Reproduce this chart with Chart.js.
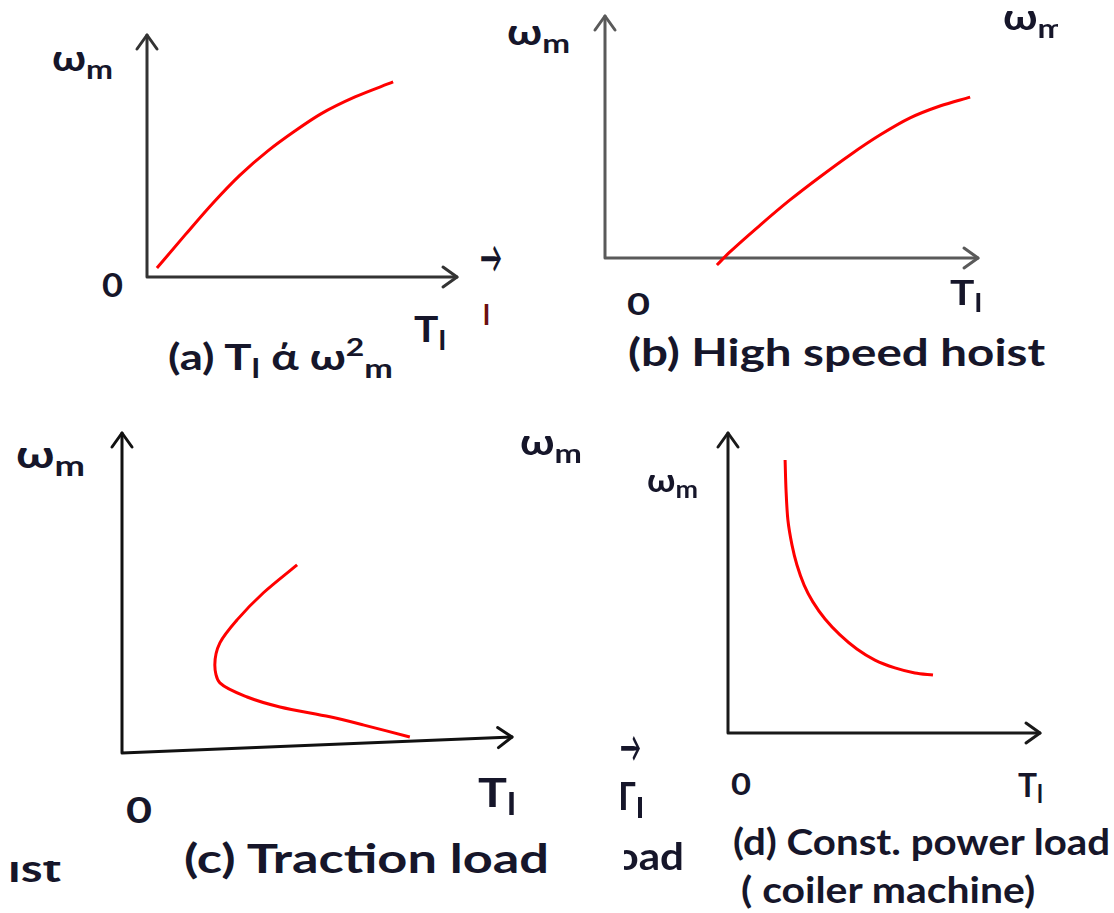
<!DOCTYPE html>
<html lang="en">
<head>
    <meta charset="UTF-8">
    <title>Load torque - speed characteristics</title>
    <script src="https://cdn.jsdelivr.net/npm/chart.js"></script>
    <style>
        body {
            margin: 0;
            background: #fff;
            width: 1114px;
            height: 913px;
            position: relative;
            overflow: hidden;
            font-family: Lato, "Open Sans", "Noto Sans", sans-serif;
        }
        canvas {
            position: absolute;
        }
        .lbl {
            position: absolute;
            white-space: nowrap;
            line-height: 1;
            font-weight: 700;
            color: #16162a;
            transform-origin: 0 0;
        }
        .lbl sub {
            font-size: 0.75em;
            vertical-align: baseline;
            position: relative;
            top: 0.28em;
        }
        .lbl sup {
            font-size: 0.7em;
            vertical-align: baseline;
            position: relative;
            top: -0.55em;
        }
        .clip {
            position: absolute;
            overflow: hidden;
        }
    </style>
</head>
<body>

    <canvas id="chartA"></canvas>
    <canvas id="chartB"></canvas>
    <canvas id="chartC"></canvas>
    <canvas id="chartD"></canvas>

    <script>
        // values, axes run 0..10 in each panel
        const aTorque = [0.32, 1.23, 2.16, 3.0, 3.9, 4.77, 5.61, 6.71, 7.94];
        const aSpeed  = [0.37, 1.74, 3.1, 4.21, 5.21, 6.03, 6.74, 7.44, 8.06];

        const bTorque = [3.0, 3.35, 4.16, 4.96, 5.76, 6.57, 7.37, 8.18, 8.98, 9.79];
        const bSpeed  = [-0.29, 0.25, 1.36, 2.40, 3.35, 4.26, 5.08, 5.79, 6.28, 6.65];

        const cTorque = [4.49, 3.62, 2.95, 2.51, 2.38, 2.51, 3.21, 4.05, 5.33, 6.18, 7.38];
        const cSpeed  = [5.88, 5.0, 4.16, 3.44, 2.75, 2.19, 1.75, 1.44, 1.13, 0.88, 0.5];

        const dTorque = [1.83, 1.86, 1.92, 2.05, 2.21, 2.44, 2.72, 3.11, 3.59, 4.13, 4.71, 5.35, 5.99, 6.57];
        const dSpeed  = [9.10, 8.10, 7.10, 6.27, 5.60, 4.93, 4.37, 3.80, 3.27, 2.80, 2.43, 2.17, 2.0, 1.93];

        // layout of each little plot: origin pixel and arrow tips
        const PAD = 16;
        const panels = [
            { id: 'chartA', xs: aTorque, ys: aSpeed, origin: [147, 277], tip: [457, 35], tilt: 0, axis: '#333', mono: true },
            { id: 'chartB', xs: bTorque, ys: bSpeed, origin: [605, 258], tip: [978, 16], tilt: 0, axis: '#5a5a5a', mono: true },
            { id: 'chartC', xs: cTorque, ys: cSpeed, origin: [122, 753], tip: [512, 433], tilt: 0.5, axis: '#111', mono: false },
            { id: 'chartD', xs: dTorque, ys: dSpeed, origin: [728, 733], tip: [1040, 433], tilt: 0, axis: '#1a1a1a', mono: false }
        ];

        function arrowHead(ctx, x, y, dx, dy) {
            // open chevron pointing along (dx, dy)
            const len = 14, half = 10;
            const nx = -dy, ny = dx;
            ctx.beginPath();
            ctx.moveTo(x - dx * len + nx * half, y - dy * len + ny * half);
            ctx.lineTo(x, y);
            ctx.lineTo(x - dx * len - nx * half, y - dy * len - ny * half);
            ctx.stroke();
        }

        const axisArrows = {
            id: 'axisArrows',
            beforeDatasetsDraw(chart, args, opts) {
                const ctx = chart.ctx;
                const xs = chart.scales.x, ys = chart.scales.y;
                const x0 = xs.getPixelForValue(0), y0 = ys.getPixelForValue(0);
                const xTip = xs.getPixelForValue(10), yTip = ys.getPixelForValue(10);
                const xEndY = ys.getPixelForValue(opts.tilt || 0);
                ctx.save();
                ctx.strokeStyle = opts.color;
                ctx.lineWidth = 3;
                ctx.lineCap = 'round';
                ctx.lineJoin = 'round';
                ctx.beginPath();
                ctx.moveTo(x0, y0);
                ctx.lineTo(x0, yTip);
                ctx.moveTo(x0, y0);
                ctx.lineTo(xTip, xEndY);
                ctx.stroke();
                arrowHead(ctx, x0, yTip, 0, -1);
                const L = Math.hypot(xTip - x0, xEndY - y0);
                arrowHead(ctx, xTip, xEndY, (xTip - x0) / L, (xEndY - y0) / L);
                ctx.restore();
            }
        };

        panels.forEach(p => {
            const cv = document.getElementById(p.id);
            const w = p.tip[0] - p.origin[0] + 2 * PAD;
            const h = p.origin[1] - p.tip[1] + 2 * PAD;
            cv.width = w;
            cv.height = h;
            cv.style.left = (p.origin[0] - PAD) + 'px';
            cv.style.top = (p.tip[1] - PAD) + 'px';

            new Chart(cv.getContext('2d'), {
                type: 'scatter',
                data: {
                    datasets: [{
                        data: p.xs.map((v, i) => ({ x: v, y: p.ys[i] })),
                        showLine: true,
                        borderColor: '#ff0000',
                        borderWidth: 3,
                        pointRadius: 0,
                        tension: 0.3,
                        cubicInterpolationMode: p.mono ? 'monotone' : 'default',
                        clip: false
                    }]
                },
                options: {
                    responsive: false,
                    animation: false,
                    events: [],
                    layout: { padding: PAD },
                    plugins: {
                        legend: { display: false },
                        tooltip: { enabled: false },
                        axisArrows: { color: p.axis, tilt: p.tilt }
                    },
                    scales: {
                        x: { type: 'linear', min: 0, max: 10, display: false },
                        y: { type: 'linear', min: 0, max: 10, display: false }
                    }
                },
                plugins: [axisArrows]
            });
        });

        // text labels: x = left, base = baseline, w = target ink width
        const labels = [
            { html: 'ω<sub>m</sub>', x: 52, base: 71, size: 36, w: 61 },
            { html: 'ω<sub>m</sub>', x: 507, base: 45, size: 36, w: 63 },
            { html: 'ω<sub>m</sub>', x: 1003, base: 30, size: 36, w: 62, clip: [990, 0, 1058, 60] },
            { html: 'ω<sub>m</sub>', x: 16, base: 468, size: 38, w: 69 },
            { html: 'ω<sub>m</sub>', x: 520, base: 455, size: 36, w: 62 },
            { html: 'ω<sub>m</sub>', x: 647, base: 492, size: 32, w: 51 },
            { html: '0', x: 102, base: 297, size: 33, w: 21 },
            { html: '0', x: 627, base: 315, size: 31, w: 23 },
            { html: '0', x: 126, base: 823, size: 36, w: 26 },
            { html: '0', x: 731, base: 795, size: 31, w: 20 },
            { html: 'T<sub>l</sub>', x: 414, base: 342, size: 36, w: 32 },
            { html: 'T<sub>l</sub>', x: 950, base: 305, size: 34, w: 32 },
            { html: 'T<sub>l</sub>', x: 478, base: 807, size: 40, w: 38 },
            { html: 'T<sub>l</sub>', x: 610, base: 810, size: 38, w: 34, clip: [621, 770, 660, 830] },
            { html: 'T<sub>l</sub>', x: 1018, base: 797, size: 32, w: 25 },
            { html: '(a) T<sub>l</sub> ά ω<sup>2</sup><sub>m</sub>', x: 168, base: 370, size: 36, w: 225 },
            { html: '(b) High speed hoist', x: 628, base: 366, size: 38, w: 417 },
            { html: '(c) Traction load', x: 184, base: 873, size: 40, w: 365 },
            { html: '(d) Const. power load', x: 733, base: 855, size: 36, w: 377 },
            { html: '( coiler machine)', x: 741, base: 903, size: 36, w: 294 },
            { html: 'ist', x: 8, base: 882, size: 38, w: 53, clip: [0, 861, 80, 900] },
            { html: 'load', x: 604, base: 870, size: 38, w: 80, clip: [624, 830, 700, 890] },
            { html: 'l', x: 483, base: 325, size: 28, color: '#6b1010' },
            { html: '→', x: 480, base: 273, size: 44, w: 22 },
            { html: '→', x: 620, base: 762, size: 42, w: 21 }
        ];

        labels.forEach(L => {
            const el = document.createElement('div');
            el.className = 'lbl';
            el.innerHTML = L.html;
            el.style.fontSize = L.size + 'px';
            if (L.color) el.style.color = L.color;
            let left = L.x;
            let top = L.base - 0.887 * L.size;
            let parent = document.body;
            if (L.clip) {
                const box = document.createElement('div');
                box.className = 'clip';
                box.style.left = L.clip[0] + 'px';
                box.style.top = L.clip[1] + 'px';
                box.style.width = (L.clip[2] - L.clip[0]) + 'px';
                box.style.height = (L.clip[3] - L.clip[1]) + 'px';
                document.body.appendChild(box);
                parent = box;
                left -= L.clip[0];
                top -= L.clip[1];
            }
            el.style.left = left + 'px';
            el.style.top = top + 'px';
            parent.appendChild(el);
            if (L.w) {
                const w = el.getBoundingClientRect().width;
                el.style.transform = 'scaleX(' + (L.w / w).toFixed(3) + ')';
            }
        });
    </script>

</body>
</html>
